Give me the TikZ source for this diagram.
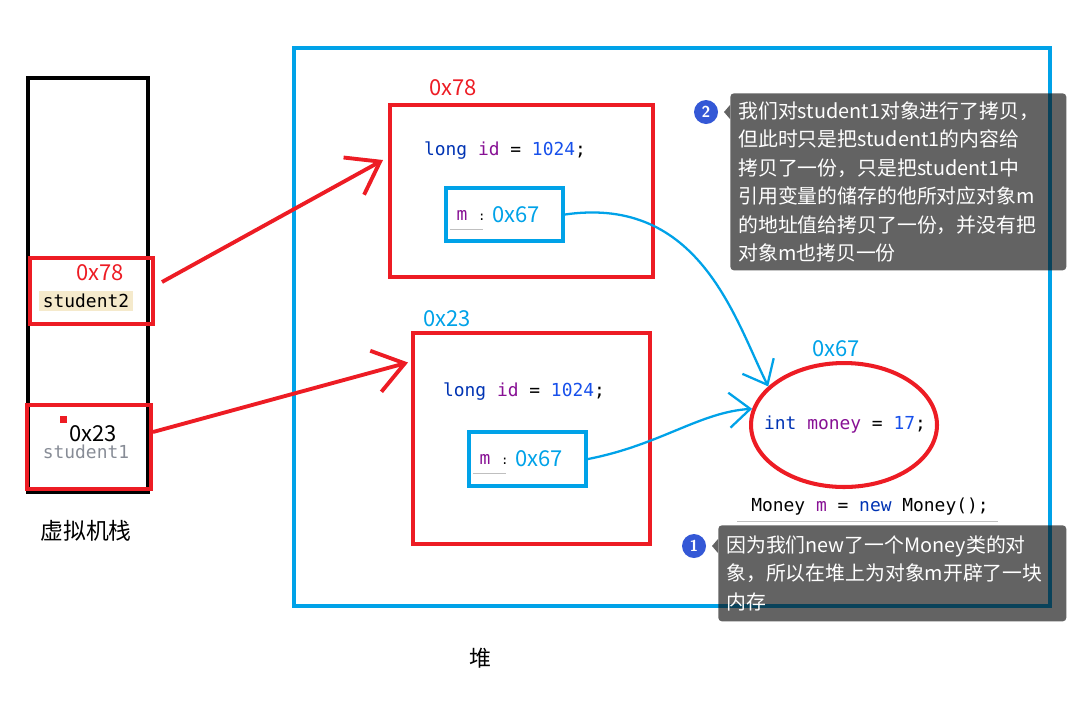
\documentclass[tikz,border=0pt]{standalone}
\usepackage{fontspec}
\setmonofont{DejaVu Sans Mono}
\newfontfamily\cjk{Noto Sans CJK SC}
\usetikzlibrary{arrows.meta, positioning, calc, shapes.geometric}
\definecolor{MarkRed}{RGB}{237,28,36}
\definecolor{MarkBlue}{RGB}{0,162,232}
\definecolor{KwBlue}{RGB}{0,51,179}
\definecolor{VarPurple}{RGB}{135,16,148}
\definecolor{NumBlue}{RGB}{23,80,235}
\definecolor{TipGray}{RGB}{15,15,15}
\definecolor{BadgeBlue}{RGB}{52,88,214}
\definecolor{NameTan}{RGB}{245,234,204}
\definecolor{NameGray}{RGB}{135,140,150}

\begin{document}
\begin{tikzpicture}[x=0.02cm, y=-0.02cm,
                    stackbox/.style={rectangle, draw=black, line width=2.3pt},
                    markbox/.style={rectangle, draw=MarkRed, line width=2.3pt},
                    refbox/.style={rectangle, draw=MarkBlue, line width=2.3pt, minimum width=2.34cm, minimum height=1.07cm},
                    code/.style={font=\ttfamily\fontsize{10.2}{12}\selectfont, inner sep=1pt},
                    addr/.style={font=\cjk\fontsize{12.5}{14}\selectfont, inner sep=0pt},
                    tip/.style={rectangle, rounded corners=2pt, fill=TipGray, fill opacity=0.65, text opacity=1, text=white, font=\cjk\fontsize{11.3}{16.2}\selectfont, align=left, inner xsep=0.16cm, anchor=north west},
                    badge/.style={circle, fill=BadgeBlue, text=white, minimum size=0.48cm, inner sep=0pt, font=\sffamily\bfseries\fontsize{9}{10}\selectfont},
                    redarrow/.style={draw=MarkRed, line width=2.2pt, -{Straight Barb[length=0.6cm, width=0.85cm]}},
                    bluearrow/.style={draw=MarkBlue, line width=1.3pt, -{Straight Barb[length=0.42cm, width=0.7cm]}}
                ]
                    \useasboundingbox (0,0) rectangle (1067,721);

                    \node[stackbox, minimum width=2.4cm, minimum height=8.28cm] (stack) at (88,285) {};
                    \node[markbox, minimum width=2.46cm, minimum height=1.32cm] (stud2) at (91.5,291) {};
                    \node[markbox, minimum width=2.48cm, minimum height=1.68cm] (stud1) at (89,447) {};
                    \node[addr, text=MarkRed] (ptr2) at (100,273) {0x78};
                    \node[code, fill=NameTan, inner sep=2pt] (name2) at (86,301) {student2};
                    \node[fill=MarkRed, minimum size=0.14cm, inner sep=0pt] (dot) at (63,419) {};
                    \node[addr] (ptr1) at (93,434) {0x23};
                    \node[code, text=NameGray] (name1) at (86,452) {student1};
                    \node[font=\cjk\fontsize{13}{15}\selectfont] (stacklabel) at (86,531) {虚拟机栈};

                    \node[rectangle, draw=MarkBlue, line width=2pt, minimum width=15.12cm, minimum height=11.16cm] (heap) at (672,327) {};
                    \node[font=\cjk\fontsize{12.5}{15}\selectfont] (heaplabel) at (480,658) {堆};

                    \node[markbox, minimum width=5.26cm, minimum height=3.44cm] (obj78) at (521.5,191) {};
                    \node[addr, text=MarkRed] (addr78) at (453,88) {0x78};
                    \node[code] (id78) at (505,151) {{\color{KwBlue}long} {\color{VarPurple}id} = {\color{NumBlue}1024};};
                    \node[refbox] (ref78) at (504.5,214.5) {};
                    \node[code, text=VarPurple] (key78) at (471,215) {m {\color{black}\scriptsize:}};
                    \node[addr, text=MarkBlue] (val78) at (516,215) {0x67};
                    \draw[black!25] (450,229) -- (483,229);

                    \node[markbox, minimum width=4.74cm, minimum height=4.22cm] (obj23) at (531.5,438.5) {};
                    \node[addr, text=MarkBlue] (addr23) at (447,319) {0x23};
                    \node[code] (id23) at (524,392) {{\color{KwBlue}long} {\color{VarPurple}id} = {\color{NumBlue}1024};};
                    \node[refbox] (ref23) at (527.5,459) {};
                    \node[code, text=VarPurple] (key23) at (494,459) {m {\color{black}\scriptsize:}};
                    \node[addr, text=MarkBlue] (val23) at (539,459) {0x67};
                    \draw[black!25] (473,473) -- (506,473);

                    \node[ellipse, draw=MarkRed, line width=2.3pt, minimum width=3.72cm, minimum height=2.48cm] (money) at (844,425) {};
                    \node[addr, text=MarkBlue] (addr67) at (836,349) {0x67};
                    \node[code] (field) at (845,425) {{\color{KwBlue}int} {\color{VarPurple}money} = {\color{NumBlue}17};};
                    \node[code] (newline) at (870,507) {Money {\color{VarPurple}m} = {\color{KwBlue}new} Money();};
                    \draw[black!25] (737,521) -- (998,521);

                    \node[tip, text width=6.4cm, minimum height=3.54cm] (tip2) at (730,93) {我们对student1对象进行了拷贝，\\但此时只是把student1的内容给\\拷贝了一份，只是把student1中\\引用变量的储存的他所对应对象m\\的地址值给拷贝了一份，并没有把\\对象m也拷贝一份};
                    \fill[TipGray, fill opacity=0.65] (730,105) -- (724,112) -- (730,119) -- cycle;
                    \node[badge] (badge2) at (706,112) {2};

                    \node[tip, text width=6.64cm, minimum height=1.92cm] (tip1) at (718,525) {因为我们new了一个Money类的对\\象，所以在堆上为对象m开辟了一块\\内存};
                    \fill[TipGray, fill opacity=0.65] (718,539) -- (712,546) -- (718,553) -- cycle;
                    \node[badge] (badge1) at (694,546) {1};

                    \draw[redarrow] ($(stud2.east)+(7,-9)$) -- ($(obj78.west)+(-5,-31)$);
                    \draw[redarrow] ($(stud1.east)+(0,-15)$) -- ($(obj23.west)+(-3,-76)$);
                    \draw[bluearrow] (ref78.east) .. controls (700,195) and (735,320) .. (money.153);
                    \draw[bluearrow] (ref23.east) .. controls (660,445) and (700,412) .. (money.170);
                \end{tikzpicture}
\end{document}
